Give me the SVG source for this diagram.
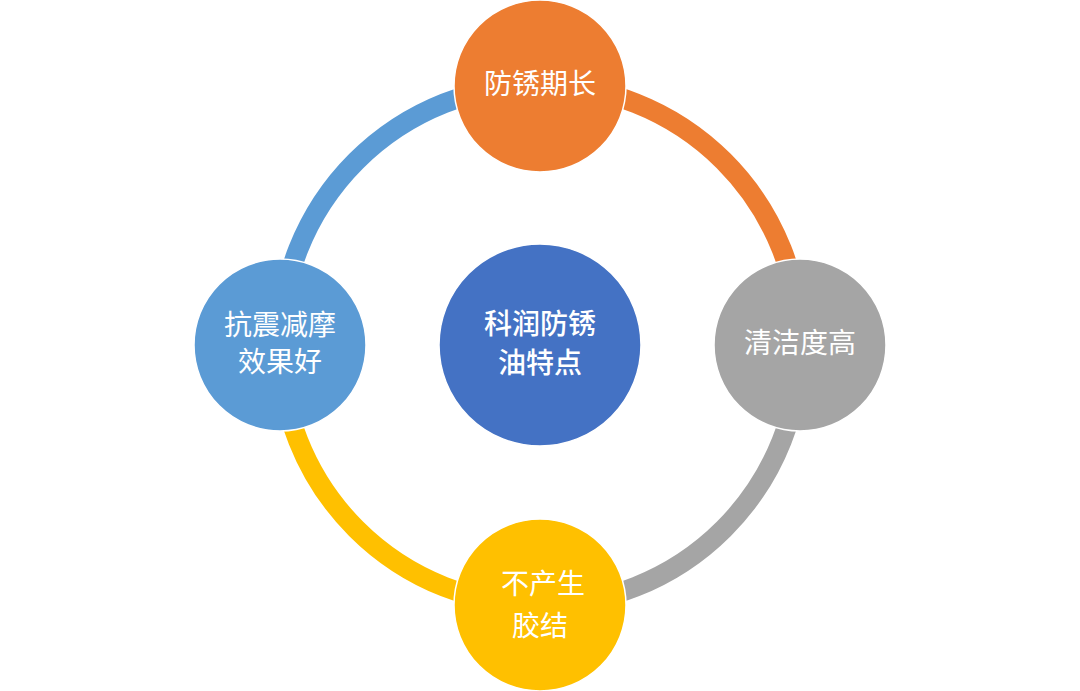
<svg xmlns="http://www.w3.org/2000/svg" width="1080" height="691" viewBox="0 0 1080 691">
<style>
.arc{fill:none;stroke-width:20}
.node{stroke:#ffffff;stroke-width:1.5}
.t{font-family:"Noto Sans CJK SC","Noto Sans",sans-serif;font-size:28px;fill:#ffffff;text-anchor:middle}
.c{font-weight:500}
</style>
<rect width="1080" height="691" fill="#ffffff"/>
<g id="connectors">
<path class="arc" stroke="#ED7D31" d="M540 85 A260 260 0 0 1 800 345"/>
<path class="arc" stroke="#A5A5A5" d="M800 345 A260 260 0 0 1 540 605"/>
<path class="arc" stroke="#FFC000" d="M540 605 A260 260 0 0 1 280 345"/>
<path class="arc" stroke="#5B9BD5" d="M280 345 A260 260 0 0 1 540 85"/>
</g>
<g id="center">
<circle class="node" cx="540" cy="345" r="101" fill="#4472C4"/>
<text class="t c" x="540" y="334">科润防锈</text>
<text class="t c" x="540" y="373">油特点</text>
</g>
<g id="top">
<circle class="node" cx="540" cy="86" r="86" fill="#ED7D31"/>
<text class="t" x="540" y="94">防锈期长</text>
</g>
<g id="right">
<circle class="node" cx="800" cy="345" r="86" fill="#A5A5A5"/>
<text class="t" x="800" y="353">清洁度高</text>
</g>
<g id="bottom">
<circle class="node" cx="540" cy="605" r="86" fill="#FFC000"/>
<text class="t" x="543" y="594">不产生</text>
<text class="t" x="540" y="636">胶结</text>
</g>
<g id="left">
<circle class="node" cx="280" cy="345" r="86" fill="#5B9BD5"/>
<text class="t" x="280" y="335">抗震减摩</text>
<text class="t" x="280" y="372">效果好</text>
</g>
</svg>
